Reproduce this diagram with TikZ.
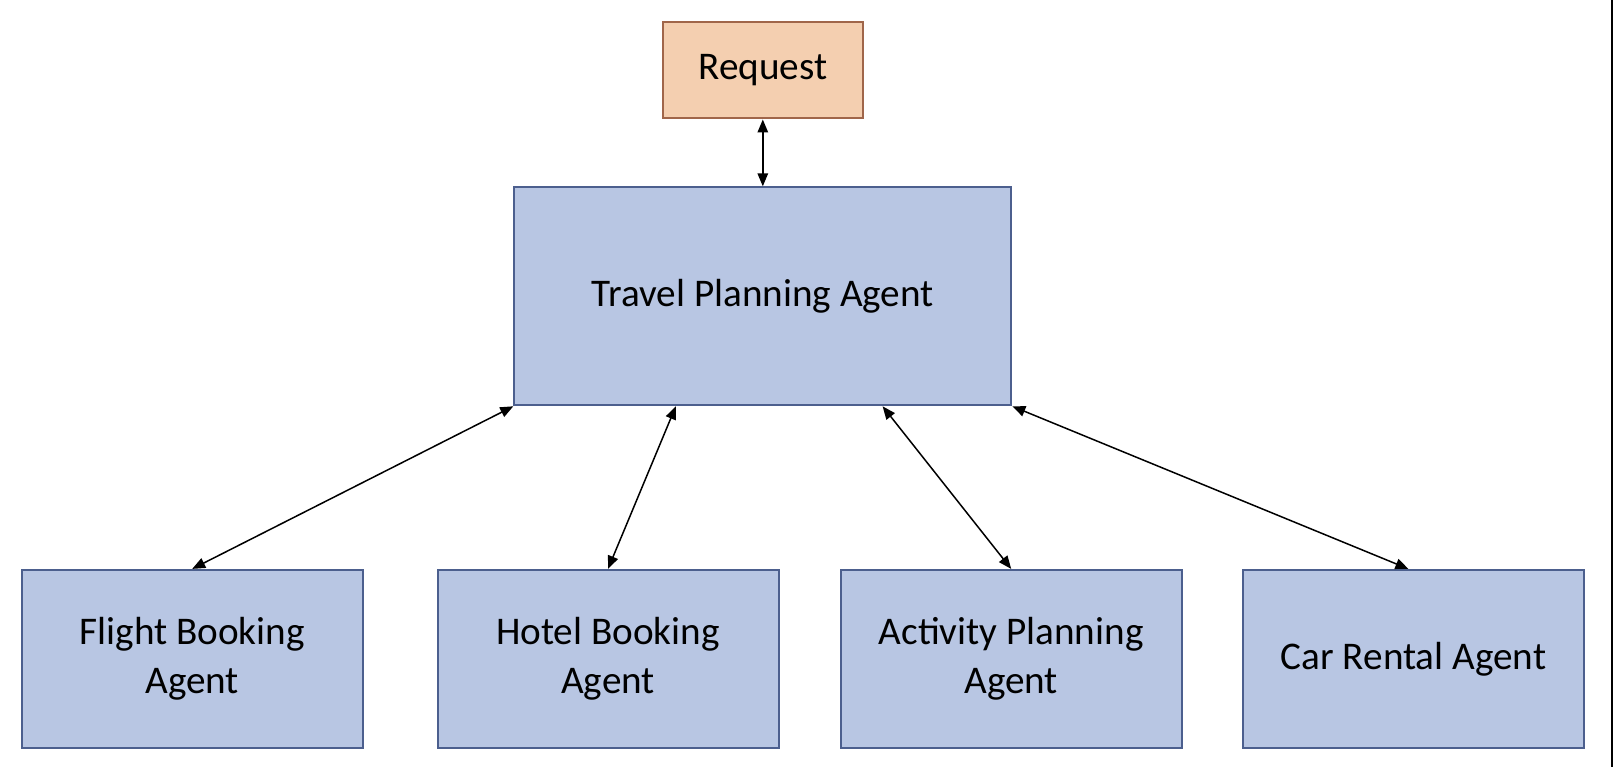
\documentclass[tikz,border=0pt]{standalone}
\usepackage{fontspec}
\setmainfont{Carlito}
\usetikzlibrary{arrows.meta,calc}
\definecolor{boxblue}{HTML}{B8C6E3}
\definecolor{boxblueline}{HTML}{4C5F8E}
\definecolor{reqfill}{HTML}{F4CFB0}
\definecolor{reqline}{HTML}{A0664A}
\begin{document}
\begin{tikzpicture}[x=1pt,y=-1pt,
  agentbox/.style={draw=boxblueline,fill=boxblue,line width=2pt,inner sep=0pt,
    minimum width=341pt,minimum height=178pt,align=center,
    font=\fontsize{39.2}{48.4}\selectfont},
  reqbox/.style={draw=reqline,fill=reqfill,line width=2pt,inner sep=0pt,
    minimum width=200pt,minimum height=96pt,align=center,
    font=\fontsize{39.2}{48.4}\selectfont},
  link/.style={line width=1.5pt,{Triangle[length=13pt,width=10.5pt]}-{Triangle[length=13pt,width=10.5pt]}}]
\useasboundingbox (0,0) rectangle (1613,767);
\node[reqbox] (req) at (762.8,70.5) {Request};
\node[agentbox,minimum width=497pt,minimum height=218pt] (tpa) at (762.8,296.3) {Travel Planning Agent};
\node[agentbox] (fba) at (192.2,658.9) {Flight Booking\\Agent};
\node[agentbox] (hba) at (608,658.9) {Hotel Booking\\Agent};
\node[agentbox] (apa) at (1011.2,658.9) {Activity Planning\\Agent};
\node[agentbox] (cra) at (1413.4,658.9) {Car Rental Agent};
\coordinate (t2) at ($(tpa.south west)+(162.5,0)$);
\coordinate (t3) at ($(tpa.south west)+(369.3,0)$);
\coordinate (c4) at ($(cra.north)+(-5,0)$);
\draw[link] (req.south) -- (tpa.north);
\draw[link] (tpa.south west) -- (fba.north);
\draw[link] (t2) -- (hba.north);
\draw[link] (t3) -- (apa.north);
\draw[link] (tpa.south east) -- (c4);
\coordinate (edgetop) at (1611.8,0);
\coordinate (edgebot) at (1611.8,767);
\draw[line width=2pt] (edgetop) -- (edgebot);
\end{tikzpicture}
\end{document}
